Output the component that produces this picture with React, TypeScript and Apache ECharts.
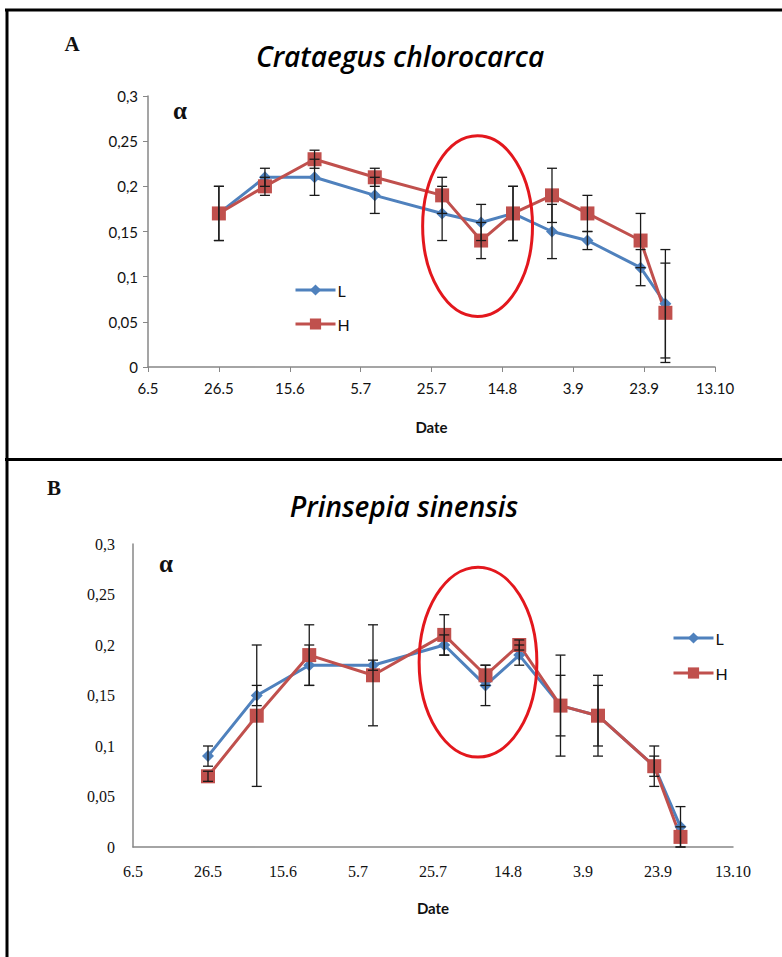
import React, { useEffect, useRef } from "react";
import * as echarts from "echarts";

// Days counted from 6 May (x axis: 20-day ticks)
const tickLabels = ["6.5", "26.5", "15.6", "5.7", "25.7", "14.8", "3.9", "23.9", "13.10"];
const sampleDays = [20, 33, 47, 64, 83, 94, 103, 114, 124, 139, 146];
const yTickLabels = ["0", "0,05", "0,1", "0,15", "0,2", "0,25", "0,3"];

// Panel A: Crataegus chlorocarca
const lA = [0.17, 0.21, 0.21, 0.19, 0.17, 0.16, 0.17, 0.15, 0.14, 0.11, 0.07];
const hA = [0.17, 0.2, 0.23, 0.21, 0.19, 0.14, 0.17, 0.19, 0.17, 0.14, 0.06];
const lAErr = [0.03, 0.01, 0.02, 0.02, 0.03, 0.02, 0.03, 0.03, 0.01, 0.02, 0.06];
const hAErr = [0.03, 0.01, 0.01, 0.01, 0.02, 0.02, 0.03, 0.03, 0.02, 0.03, 0.055];

// Panel B: Prinsepia sinensis
const lB = [0.09, 0.15, 0.18, 0.18, 0.2, 0.16, 0.19, 0.14, 0.13, 0.08, 0.02];
const hB = [0.07, 0.13, 0.19, 0.17, 0.21, 0.17, 0.2, 0.14, 0.13, 0.08, 0.01];
const lBErr = [0.01, 0.01, 0.02, 0.005, 0.01, 0.02, 0.01, 0.05, 0.04, 0.02, 0.02];
const hBErr = [0.005, 0.07, 0.03, 0.05, 0.02, 0.01, 0.005, 0.03, 0.03, 0.01, 0.01];

// Highlight ellipses (data coordinates: center day, center value, half-width days, half-height value)
const ellipseA = [93, 0.156, 15.5, 0.1];
const ellipseB = [92, 0.183, 15.7, 0.094];

const BLUE = "#4F81BD";
const RED = "#C0504D";
const SANS = "Lato, 'Open Sans', sans-serif";
const TITLE = "'Open Sans', Lato, sans-serif";
const SERIF = "'Liberation Serif', 'DejaVu Serif', serif";

function pairs(vals: number[]) {
  return sampleDays.map((d, i) => [d, vals[i]]);
}
function errs(vals: number[], e: number[]) {
  return sampleDays.map((d, i) => [d, vals[i] - e[i], vals[i] + e[i]]);
}

const renderErr = (params: any, api: any) => {
  const x = api.value(0);
  const lo = api.value(1);
  const hi = api.value(2);
  const p1 = api.coord([x, hi]);
  const p2 = api.coord([x, lo]);
  const w = 5;
  const st = { stroke: "#1a1a1a", lineWidth: 1.3 };
  return {
    type: "group",
    children: [
      { type: "line", shape: { x1: p1[0], y1: p1[1], x2: p2[0], y2: p2[1] }, style: st },
      { type: "line", shape: { x1: p1[0] - w, y1: p1[1], x2: p1[0] + w, y2: p1[1] }, style: st },
      { type: "line", shape: { x1: p2[0] - w, y1: p2[1], x2: p2[0] + w, y2: p2[1] }, style: st },
    ],
  };
};

export default function App() {
  const ref = useRef<HTMLDivElement>(null);
  useEffect(() => {
    document.body.style.margin = "0";
    const chart = echarts.init(ref.current!, null, { renderer: "svg" });

    const xAxisBase = (idx: number, ticks: boolean, font: string, size: number, gap: number) => ({
      type: "value",
      gridIndex: idx,
      min: 0,
      max: 160,
      interval: 20,
      splitLine: { show: false },
      axisLine: { lineStyle: { color: "#878787", width: 1.5 } },
      axisTick: { show: ticks, length: 5, lineStyle: { color: "#878787" } },
      axisLabel: {
        formatter: (v: number) => tickLabels[Math.round(v / 20)] ?? "",
        color: "#111",
        fontFamily: font,
        fontSize: size,
        margin: ticks ? 13 : 16,
        showMinLabel: true,
        showMaxLabel: true,
      },
      name: "Date",
      nameLocation: "middle",
      nameGap: gap,
      nameTextStyle: { fontFamily: SANS, fontWeight: "bold", fontSize: 15, color: "#111" },
    });
    const yAxisBase = (idx: number, ticks: boolean, font: string, size: number, margin: number) => ({
      type: "value",
      gridIndex: idx,
      min: 0,
      max: 0.3,
      interval: 0.05,
      splitLine: { show: false },
      axisLine: { show: true, lineStyle: { color: "#878787", width: 1.5 } },
      axisTick: { show: ticks, length: 5, lineStyle: { color: "#878787" } },
      axisLabel: {
        formatter: (v: number) => yTickLabels[Math.round(v / 0.05)] ?? "",
        color: "#111",
        fontFamily: font,
        fontSize: size,
        margin,
      },
    });

    const lineSeries = (name: string, idx: number, data: number[][], color: string, symbol: string, size: number) => ({
      name,
      type: "line",
      xAxisIndex: idx,
      yAxisIndex: idx,
      data,
      symbol,
      symbolSize: size,
      lineStyle: { color, width: 3 },
      itemStyle: { color },
      z: 2,
    });

    const legendBase = {
      orient: "vertical",
      itemWidth: 40,
      itemHeight: 14,
      lineStyle: { width: 3 },
      itemGap: 18,
      data: ["L", "H"],
      textStyle: { fontFamily: SANS, fontSize: 16, color: "#111", padding: [0, 0, 0, -3] },
    };

    chart.setOption({
      animation: false,
      grid: [
        { left: 148, right: 67, top: 96, bottom: 590 },
        { left: 133, right: 49, top: 544, bottom: 110 },
      ],
      xAxis: [xAxisBase(0, true, SANS, 15, 52), xAxisBase(1, false, SERIF, 16, 53)],
      yAxis: [yAxisBase(0, true, SANS, 15, 10), yAxisBase(1, false, SERIF, 16, 18)],
      legend: [
        { ...legendBase, left: 289, top: 277 },
        { ...legendBase, left: 667, top: 625, itemGap: 19 },
      ],
      series: [
        lineSeries("L", 0, pairs(lA), BLUE, "diamond", 12),
        lineSeries("H", 0, pairs(hA), RED, "rect", 14),
        lineSeries("L", 1, pairs(lB), BLUE, "diamond", 12),
        lineSeries("H", 1, pairs(hB), RED, "rect", 14),
        {
          type: "custom",
          xAxisIndex: 0,
          yAxisIndex: 0,
          renderItem: renderErr,
          data: [...errs(lA, lAErr), ...errs(hA, hAErr)],
          encode: { x: 0, y: [1, 2] },
          z: 3,
        },
        {
          type: "custom",
          xAxisIndex: 1,
          yAxisIndex: 1,
          renderItem: renderErr,
          data: [...errs(lB, lBErr), ...errs(hB, hBErr)],
          encode: { x: 0, y: [1, 2] },
          z: 3,
        },
      ],
    });

    const ell = (gi: number, e: number[]) => {
      const c = chart.convertToPixel({ gridIndex: gi }, [e[0], e[1]]) as number[];
      const r = chart.convertToPixel({ gridIndex: gi }, [e[0] + e[2], e[1] + e[3]]) as number[];
      return {
        type: "ellipse",
        shape: { cx: c[0], cy: c[1], rx: Math.abs(r[0] - c[0]), ry: Math.abs(c[1] - r[1]) },
        style: { fill: "none", stroke: "#E3171D", lineWidth: 3 },
        z: 10,
      };
    };
    const frame = { stroke: "#000", lineWidth: 3 };
    const label = (text: string, x: number, y: number, size: number) => ({
      type: "text",
      x,
      y,
      style: { text, fontFamily: SERIF, fontWeight: "bold", fontSize: size, fill: "#111", textAlign: "center", textVerticalAlign: "middle" },
    });
    chart.setOption({
      graphic: [
        { type: "line", shape: { x1: 5, y1: 10, x2: 782, y2: 10 }, style: frame },
        { type: "line", shape: { x1: 7, y1: 9, x2: 7, y2: 957 }, style: frame },
        { type: "line", shape: { x1: 5, y1: 459.5, x2: 782, y2: 459.5 }, style: frame },
        label("A", 72, 44, 21),
        label("B", 54, 488, 21),
        label("α", 180, 110, 25),
        label("α", 166, 563, 25),
        {
          type: "text",
          x: 400,
          y: 56,
          style: { text: "Crataegus chlorocarca", fontFamily: TITLE, fontStyle: "italic", fontWeight: 600, fontSize: 28, fill: "#000", textAlign: "center", textVerticalAlign: "middle" },
        },
        {
          type: "text",
          x: 404,
          y: 506,
          style: { text: "Prinsepia sinensis", fontFamily: TITLE, fontStyle: "italic", fontWeight: 600, fontSize: 28, fill: "#000", textAlign: "center", textVerticalAlign: "middle" },
        },
        ell(0, ellipseA),
        ell(1, ellipseB),
      ],
    });

    return () => chart.dispose();
  }, []);
  return <div ref={ref} style={{ width: 782, height: 957 }} />;
}
